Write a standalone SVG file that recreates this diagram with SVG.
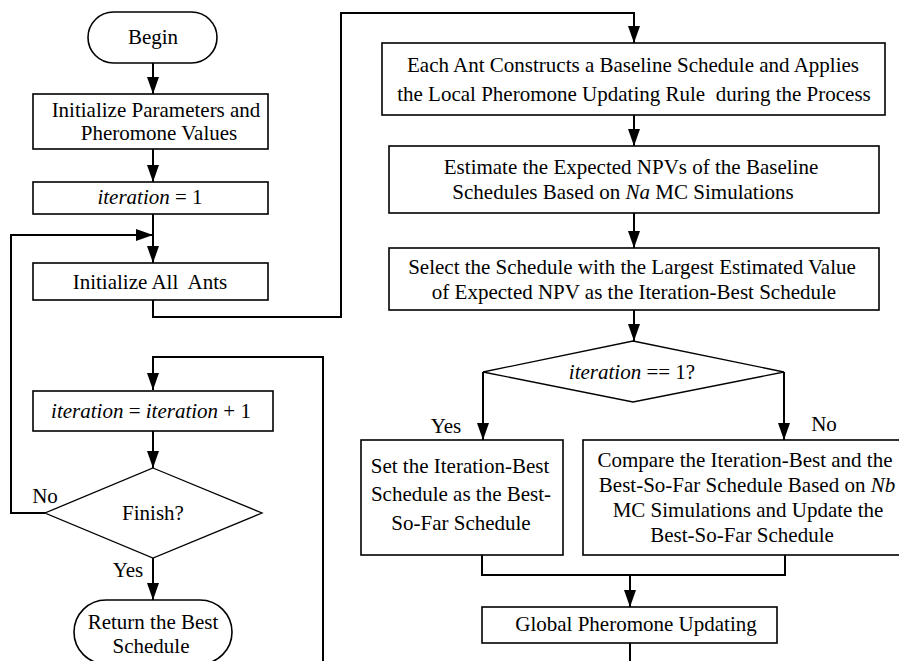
<svg xmlns="http://www.w3.org/2000/svg" width="899" height="661" viewBox="0 0 899 661">
<style>
.b{fill:#fff;stroke:#000;stroke-width:1.6}
.d{fill:#fff;stroke:#000;stroke-width:1.3}
.c{fill:none;stroke:#000;stroke-width:2}
text{font-family:"Liberation Serif","Times New Roman",serif;font-size:21px;fill:#000;text-anchor:middle;white-space:pre}
.i{font-style:italic}
</style>
<defs>
<marker id="a" markerUnits="userSpaceOnUse" markerWidth="18" markerHeight="12" refX="17" refY="6" orient="auto">
<path d="M0,0 L17,6 L0,12 Z" fill="#000"/>
</marker>
</defs>
<rect width="899" height="661" fill="#fff"/>
<g id="connectors">
<path class="c" d="M153,63 V94" marker-end="url(#a)"/>
<path class="c" d="M153,149 V182" marker-end="url(#a)"/>
<path class="c" d="M153,214 V263" marker-end="url(#a)"/>
<path class="c" d="M45,513 H11 V235 H153" marker-end="url(#a)"/>
<path class="c" d="M153,300 V317 H341 V13 H634 V43" marker-end="url(#a)"/>
<path class="c" d="M634,115 V146" marker-end="url(#a)"/>
<path class="c" d="M634,213 V248" marker-end="url(#a)"/>
<path class="c" d="M634,310 V341" marker-end="url(#a)"/>
<path class="c" d="M483,372 V440" marker-end="url(#a)"/>
<path class="c" d="M784,372 V440" marker-end="url(#a)"/>
<path class="c" d="M482,555 V575 H785 V555"/>
<path class="c" d="M630,575 V607" marker-end="url(#a)"/>
<path class="c" d="M630,643 V661"/>
<path class="c" d="M323,661 V357 H153 V390" marker-end="url(#a)"/>
<path class="c" d="M153,431 V468" marker-end="url(#a)"/>
<path class="c" d="M153,558 V600" marker-end="url(#a)"/>
</g>
<g id="begin">
<rect class="b" x="88" y="12" width="129" height="51" rx="25.5"/>
<text x="153" y="44">Begin</text>
</g>
<g id="init-params">
<rect class="b" x="33" y="94" width="235" height="55"/>
<text x="156" y="117">Initialize Parameters and</text>
<text x="159" y="140">Pheromone Values</text>
</g>
<g id="iter-one">
<rect class="b" x="33" y="182" width="235" height="32"/>
<text x="150" y="204"><tspan class="i">iteration</tspan> = 1</text>
</g>
<g id="init-ants">
<rect class="b" x="33" y="263" width="235" height="37"/>
<text x="150" y="289">Initialize All  Ants</text>
</g>
<g id="iter-inc">
<rect class="b" x="33" y="391" width="240" height="40"/>
<text x="151" y="418"><tspan class="i">iteration</tspan> = <tspan class="i">iteration</tspan> + 1</text>
</g>
<g id="finish">
<polygon class="d" points="153,468 262,513 153,558 45,513"/>
<text x="153" y="520">Finish?</text>
</g>
<g id="labels-left">
<text x="45" y="503">No</text>
<text x="128" y="577">Yes</text>
</g>
<g id="return">
<rect class="b" x="74" y="600" width="158" height="64" rx="32"/>
<text x="153" y="629">Return the Best</text>
<text x="151" y="653">Schedule</text>
</g>
<g id="construct">
<rect class="b" x="382" y="43" width="503" height="72"/>
<text x="633" y="72">Each Ant Constructs a Baseline Schedule and Applies</text>
<text x="634" y="101">the Local Pheromone Updating Rule  during the Process</text>
</g>
<g id="estimate">
<rect class="b" x="389" y="146" width="490" height="67"/>
<text x="631" y="174">Estimate the Expected NPVs of the Baseline</text>
<text x="623" y="199">Schedules Based on <tspan class="i">Na</tspan> MC Simulations</text>
</g>
<g id="select">
<rect class="b" x="389" y="248" width="490" height="62"/>
<text x="632" y="274">Select the Schedule with the Largest Estimated Value</text>
<text x="634" y="299">of Expected NPV as the Iteration-Best Schedule</text>
</g>
<g id="iter-check">
<polygon class="d" points="633,341 784,372 633,402 483,372"/>
<text x="632" y="379"><tspan class="i">iteration</tspan> == 1?</text>
</g>
<g id="labels-right">
<text x="446" y="433">Yes</text>
<text x="824" y="431">No</text>
</g>
<g id="set-best">
<rect class="b" x="361" y="440" width="202" height="115"/>
<text x="460" y="473">Set the Iteration-Best</text>
<text x="461" y="501">Schedule as the Best-</text>
<text x="461" y="530">So-Far Schedule</text>
</g>
<g id="compare">
<rect class="b" x="583" y="440" width="330" height="115"/>
<text x="745" y="467">Compare the Iteration-Best and the</text>
<text x="747" y="492">Best-So-Far Schedule Based on <tspan class="i">Nb</tspan></text>
<text x="748" y="517">MC Simulations and Update the</text>
<text x="742" y="542">Best-So-Far Schedule</text>
</g>
<g id="global">
<rect class="b" x="482" y="607" width="295" height="36"/>
<text x="636" y="631">Global Pheromone Updating</text>
</g>
</svg>
